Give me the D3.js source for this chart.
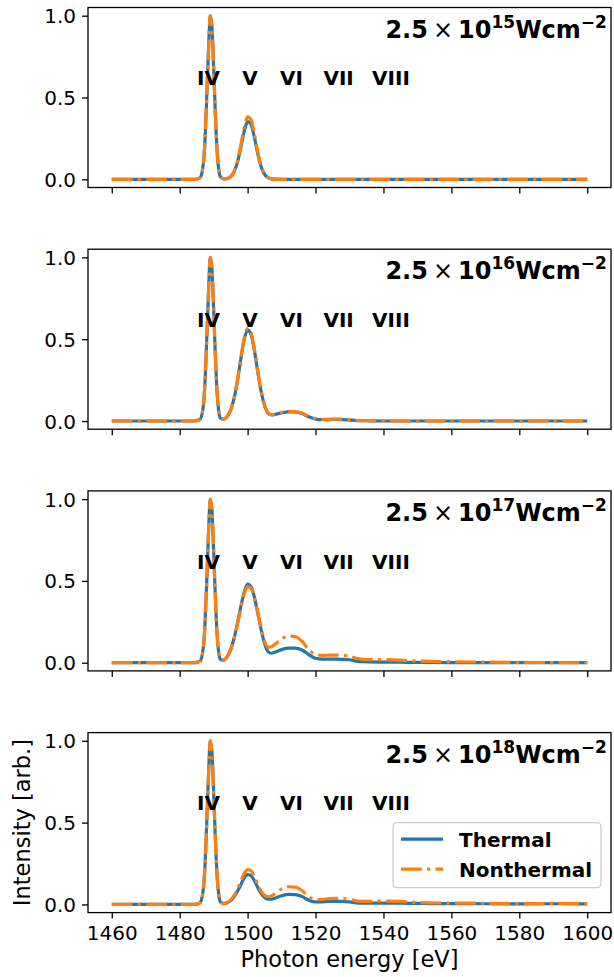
<!DOCTYPE html>
<html>
<head>
<meta charset="utf-8">
<script src="https://cdn.jsdelivr.net/npm/d3@7"></script>
<style>
  html, body { margin: 0; padding: 0; background: #fff; }
  svg { display: block; }
  text { font-family: "DejaVu Sans", sans-serif; }
</style>
</head>
<body>
<svg id="chart" width="614" height="977"></svg>
<script>
// ---------------- data ----------------
const energy = [1460, 1470, 1480, 1484, 1485, 1486, 1487, 1487.5, 1488, 1488.5, 1489, 1489.5, 1490, 1490.5, 1491, 1491.5,
  1492, 1493, 1494, 1495, 1496, 1497, 1498, 1499, 1500, 1501, 1502, 1503, 1504, 1505, 1506, 1507, 1508,
  1510, 1512, 1514, 1516, 1518, 1520, 1522, 1524, 1526, 1528, 1530, 1532, 1534, 1536,
  1540, 1545, 1550, 1560, 1570, 1580, 1590, 1600];

// shared rising edge + line IV (1460 .. 1491.5)
const lineIV = [0, 0, 0, 0, 0.002, 0.01, 0.1, 0.26, 0.52, 0.8, 1.0, 0.93, 0.68, 0.4, 0.18, 0.06];

// remaining part of each spectrum (1492 .. 1600)
const thermal15    = [0.016,0.002,0.005,0.015,0.044,0.104,0.195,0.293,0.352,0.335,0.256,0.155,0.075,0.03,0.01,0.003,0.001,
                      0,0,0,0,0,0,0,0,0,0,0,0,0,0, 0,0,0, 0,0,0,0,0];
const nonthermal15 = [0.016,0.002,0.005,0.016,0.047,0.112,0.21,0.318,0.382,0.364,0.278,0.168,0.081,0.032,0.011,0.003,0.001,
                      0,0,0,0,0,0,0,0,0,0,0,0,0,0, 0,0,0, 0,0,0,0,0];
const thermal16    = [0.018,0.012,0.028,0.066,0.137,0.245,0.378,0.497,0.555,0.53,0.43,0.298,0.178,0.095,0.048,0.037,0.04,
                      0.05,0.056,0.055,0.046,0.026,0.012,0.008,0.009,0.01,0.009,0.006,0.003,0.002,0.001, 0,0,0, 0,0,0,0,0];
const nonthermal16 = [0.018,0.012,0.029,0.068,0.14,0.25,0.385,0.506,0.565,0.54,0.438,0.303,0.181,0.097,0.05,0.039,0.042,
                      0.053,0.059,0.058,0.049,0.028,0.014,0.01,0.011,0.012,0.011,0.008,0.004,0.003,0.002, 0.001,0,0, 0,0,0,0,0];
const thermal17    = [0.02,0.016,0.038,0.08,0.148,0.24,0.343,0.431,0.48,0.465,0.4,0.302,0.2,0.117,0.068,0.058,0.064,
                      0.08,0.089,0.089,0.078,0.05,0.027,0.022,0.022,0.022,0.021,0.018,0.01,0.006,0.005, 0.004,0.003,0.002, 0.001,0,0,0,0];
const nonthermal17 = [0.02,0.016,0.038,0.079,0.145,0.235,0.334,0.42,0.465,0.455,0.395,0.305,0.21,0.13,0.095,0.098,0.112,
                      0.145,0.163,0.16,0.13,0.082,0.05,0.045,0.046,0.046,0.045,0.04,0.027,0.02,0.019, 0.019,0.016,0.01, 0.006,0.004,0.002,0.001,0];
const thermal18    = [0.016,0.005,0.01,0.023,0.046,0.08,0.12,0.162,0.182,0.176,0.145,0.103,0.066,0.042,0.032,0.032,0.038,
                      0.053,0.061,0.06,0.048,0.026,0.015,0.016,0.018,0.018,0.018,0.015,0.01,0.008,0.008, 0.008,0.008,0.006, 0.005,0.004,0.003,0.004,0.003];
const nonthermal18 = [0.016,0.006,0.012,0.027,0.054,0.094,0.142,0.19,0.213,0.206,0.17,0.122,0.08,0.056,0.048,0.052,0.065,
                      0.095,0.108,0.106,0.085,0.047,0.03,0.031,0.035,0.037,0.036,0.032,0.022,0.018,0.019, 0.02,0.018,0.012, 0.008,0.007,0.004,0.006,0.005];

const exponents = ["15", "16", "17", "18"];
const thermalTails = [thermal15, thermal16, thermal17, thermal18];
const nonthermalTails = [nonthermal15, nonthermal16, nonthermal17, nonthermal18];

const stageLabels = ["IV", "V", "VI", "VII", "VIII"];
const stagePositions = [1488.5, 1500.7, 1512.9, 1526.8, 1542.2];
const stageLabelY = 0.575;

const xTicks = [1460, 1480, 1500, 1520, 1540, 1560, 1580, 1600];
const yTicks = [0.0, 0.5, 1.0];
const seriesNames = ["Thermal", "Nonthermal"];

// ---------------- layout ----------------
const W = 614, H = 977;
const left = 88, right = 611;
const panelTop0 = 7.5, panelH = 180, panelStep = 241.7;
const blue = "#1f77b4", orange = "#ff7f0e";
const lw = 3.2;
const dashDot = "20.8,5.2,3.25,5.2";
const tickLen = 6;
const fs = 20;

const svg = d3.select("#chart");
svg.append("rect").attr("width", W).attr("height", H).attr("fill", "#fff");

const x = d3.scaleLinear().domain([1453, 1607]).range([left, right]);

for (let p = 0; p < 4; p++) {
  const top = panelTop0 + p * panelStep;
  const bottom = top + panelH;
  const y = d3.scaleLinear().domain([-0.05, 1.05]).range([bottom, top]);
  const g = svg.append("g");

  const thermal = lineIV.concat(thermalTails[p]);
  const nonthermal = lineIV.concat(nonthermalTails[p]);
  const line = d3.line().x((d, i) => x(energy[i])).y(d => y(d)).curve(d3.curveMonotoneX);

  const clipId = "clip" + p;
  svg.append("clipPath").attr("id", clipId).append("rect")
    .attr("x", left).attr("y", top).attr("width", right - left).attr("height", panelH);

  const plot = g.append("g").attr("clip-path", `url(#${clipId})`);
  plot.append("path").datum(thermal).attr("d", line)
    .attr("fill", "none").attr("stroke", blue).attr("stroke-width", lw)
    .attr("stroke-linejoin", "round").attr("stroke-linecap", "butt");
  plot.append("path").datum(nonthermal).attr("d", line)
    .attr("fill", "none").attr("stroke", orange).attr("stroke-width", lw)
    .attr("stroke-dasharray", dashDot).attr("stroke-linejoin", "round").attr("stroke-linecap", "butt");

  // axes
  const xAxis = d3.axisBottom(x).tickValues(xTicks).tickSize(tickLen).tickPadding(6)
    .tickFormat(p === 3 ? d3.format("d") : () => "");
  const gx = g.append("g").attr("transform", `translate(0,${bottom})`).call(xAxis);
  const yAxis = d3.axisLeft(y).tickValues(yTicks).tickSize(tickLen).tickPadding(6).tickFormat(d3.format(".1f"));
  const gy = g.append("g").attr("transform", `translate(${left},0)`).call(yAxis);
  [gx, gy].forEach(a => {
    a.select(".domain").remove();
    a.selectAll(".tick line").attr("stroke", "#000").attr("stroke-width", 1.3);
    a.selectAll(".tick text").attr("fill", "#000").attr("font-size", fs)
      .attr("font-family", "DejaVu Sans");
  });
  gy.selectAll(".tick text").attr("dy", "0.35em");
  gx.selectAll(".tick text").attr("dy", "0.76em");

  // frame
  g.append("rect").attr("x", left).attr("y", top).attr("width", right - left).attr("height", panelH)
    .attr("fill", "none").attr("stroke", "#000").attr("stroke-width", 1.3);

  // stage labels
  g.selectAll(".stage").data(stageLabels).enter().append("text")
    .attr("x", (d, i) => x(stagePositions[i])).attr("y", y(stageLabelY))
    .attr("text-anchor", "middle").attr("font-weight", "bold").attr("font-size", fs)
    .attr("fill", "#000").text(d => d);

  // intensity title
  const t = g.append("text").attr("x", x(1605.8)).attr("y", y(0.865))
    .attr("text-anchor", "end").attr("font-weight", "bold").attr("font-size", 24).attr("fill", "#000");
  t.append("tspan").text("2.5");
  t.append("tspan").attr("dx", 5).attr("font-weight", "normal").text("×");
  t.append("tspan").attr("dx", 5).text("10");
  t.append("tspan").attr("font-size", 17).attr("dy", -10).text(exponents[p]);
  t.append("tspan").attr("dy", 10).text("Wcm");
  t.append("tspan").attr("font-size", 17).attr("dy", -10).text("−2");

  if (p === 3) {
    // legend
    const lg = g.append("g");
    const lx = right - 218, ly = top + 90;
    lg.append("rect").attr("x", lx).attr("y", ly).attr("width", 208).attr("height", 65)
      .attr("rx", 4).attr("fill", "#fff").attr("fill-opacity", 0.8)
      .attr("stroke", "#cccccc").attr("stroke-width", 1.3);
    const colors = [blue, orange];
    const dashes = [null, dashDot];
    seriesNames.forEach((name, i) => {
      const yy = ly + 16.5 + i * 30;
      lg.append("line").attr("x1", lx + 8).attr("x2", lx + 50).attr("y1", yy).attr("y2", yy)
        .attr("stroke", colors[i]).attr("stroke-width", lw)
        .attr("stroke-dasharray", dashes[i]);
      lg.append("text").attr("x", lx + 66).attr("y", yy + 7.5)
        .attr("font-size", fs).attr("font-weight", "bold").attr("fill", "#000").text(name);
    });

    // axis labels
    svg.append("text").attr("x", (left + right) / 2).attr("y", 966.5)
      .attr("text-anchor", "middle").attr("font-size", 22.5).attr("fill", "#000")
      .text("Photon energy [eV]");
    svg.append("text").attr("transform", `translate(29.5,${(top + bottom) / 2}) rotate(-90)`)
      .attr("text-anchor", "middle").attr("font-size", 22.5).attr("fill", "#000")
      .text("Intensity [arb.]");
  }
}
</script>
</body>
</html>
